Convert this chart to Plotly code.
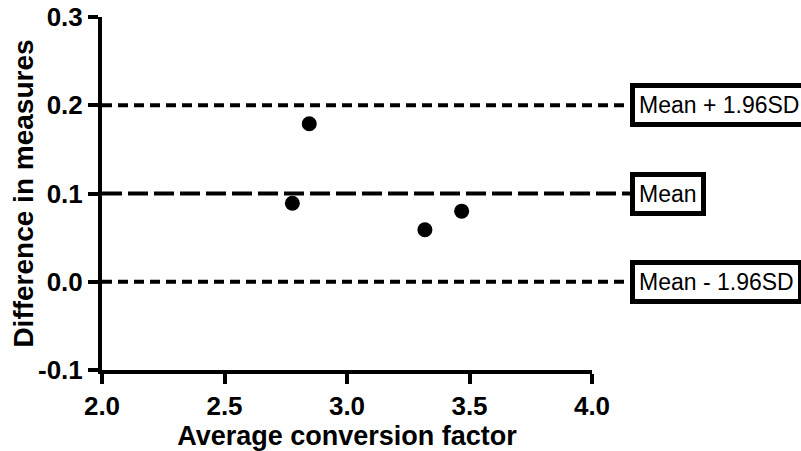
import plotly.graph_objects as go

# Data
avg_factor = [2.777, 2.846, 3.318, 3.468]
diff_measures = [0.089, 0.179, 0.059, 0.080]

mean_diff = 0.10
upper_loa = 0.20
lower_loa = 0.00

ref_values = [upper_loa, mean_diff, lower_loa]
ref_labels = ["Mean + 1.96SD", "Mean", "Mean - 1.96SD"]
ref_dashes = ["10px,6px", "20px,6px", "10px,6px"]

x_range = [2.0, 4.0]
y_range = [-0.1, 0.3]
x_ticks = [2.0, 2.5, 3.0, 3.5, 4.0]
x_tick_labels = ["2.0", "2.5", "3.0", "3.5", "4.0"]
y_ticks = [-0.1, 0.0, 0.1, 0.2, 0.3]
y_tick_labels = ["-0.1", "0.0", "0.1", "0.2", "0.3"]

x_title = "Average conversion factor"
y_title = "Difference in measures"

label_x_data = 4.155  # where the lines end / label boxes start
label_x_paper = (label_x_data - x_range[0]) / (x_range[1] - x_range[0])

FONT = "Arial, Liberation Sans, sans-serif"

fig = go.Figure()
fig.add_trace(go.Scatter(
    x=avg_factor, y=diff_measures, mode="markers",
    marker=dict(color="black", size=15),
    showlegend=False, cliponaxis=False,
))

for v, lab, d in zip(ref_values, ref_labels, ref_dashes):
    fig.add_shape(type="line", xref="paper", yref="y",
                  x0=0, x1=label_x_paper, y0=v, y1=v,
                  line=dict(color="black", width=4, dash=d), layer="below")
    fig.add_annotation(xref="paper", yref="y", x=label_x_paper, y=v,
                       xanchor="left", yanchor="middle", showarrow=False,
                       text=lab, font=dict(family=FONT, size=23, color="black"),
                       bordercolor="black", borderwidth=5, borderpad=4,
                       bgcolor="white")

# y-axis title placed as a rotated annotation
fig.add_annotation(xref="paper", yref="paper", x=-0.161, y=0.5,
                   xanchor="center", yanchor="middle", showarrow=False,
                   textangle=-90, text=y_title,
                   font=dict(family=FONT, size=28, color="black", weight="bold"))

fig.update_layout(
    template="none",
    width=801, height=451,
    margin=dict(l=102, r=209, t=17, b=81, autoexpand=False),
    paper_bgcolor="white", plot_bgcolor="white",
    font=dict(family=FONT, color="black"),
    showlegend=False,
)
fig.update_xaxes(
    range=x_range, tickvals=x_ticks, ticktext=x_tick_labels,
    showgrid=False, zeroline=False, automargin=False,
    showline=True, linecolor="black", linewidth=4,
    ticks="outside", ticklen=10, tickwidth=4, tickcolor="black",
    tickfont=dict(family=FONT, size=26, color="black", weight="bold"),
    title=dict(text=x_title,
               font=dict(family=FONT, size=27, color="black", weight="bold"),
               standoff=4),
)
fig.update_yaxes(
    range=y_range, tickvals=y_ticks, ticktext=y_tick_labels,
    showgrid=False, zeroline=False, automargin=False,
    showline=True, linecolor="black", linewidth=4,
    ticks="outside", ticklen=10, tickwidth=4, tickcolor="black",
    tickfont=dict(family=FONT, size=26, color="black", weight="bold"),
)

fig.write_html("out.html")
